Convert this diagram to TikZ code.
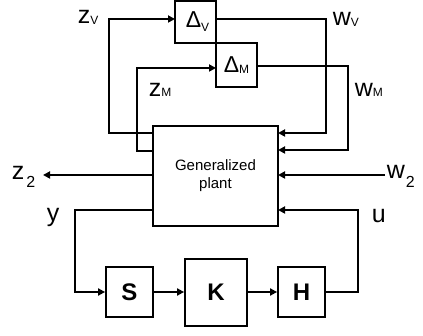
\documentclass[tikz,border=0pt]{standalone}
\usepackage{fontspec}
\setmainfont{Liberation Sans}
\usetikzlibrary{arrows.meta,calc}
\newcommand\mysub[3]{{\fontsize{#1}{#1}\selectfont\raisebox{-#2pt}{#3}}}
\begin{document}
\begin{tikzpicture}[x=1pt,y=-1pt, line width=1.8pt,
  arr/.style={-{Triangle[length=7pt,width=7pt]}},
  blk/.style={draw, inner sep=0pt, anchor=center},
  lab/.style={inner sep=0pt, anchor=base west, font=\fontsize{25}{25}\selectfont},
  bigbold/.style={font=\fontsize{24}{24}\selectfont\bfseries}]
\useasboundingbox (0,0) rectangle (423,336);
% blocks
\node[blk, minimum width=125pt, minimum height=100pt, align=center,
      font=\fontsize{15}{18}\selectfont] (plant) at (215.5,176) {Generalized\\plant};
\node[blk, minimum width=41pt, minimum height=42pt, font=\fontsize{23}{23}\selectfont] (dV) at (195.5,22) {\hspace*{4pt}Δ\mysub{12}{4}{V}};
\node[blk, minimum width=41pt, minimum height=44pt, font=\fontsize{23}{23}\selectfont] (dM) at (236.5,65) {Δ\mysub{12}{1}{M}};
\node[blk, bigbold, minimum width=47pt, minimum height=50pt] (S) at (129.5,292) {S};
\node[blk, bigbold, minimum width=62pt, minimum height=67pt] (K) at (216,292.5) {K};
\node[blk, bigbold, minimum width=47pt, minimum height=50pt] (H) at (301.5,292) {H};
% ports
\coordinate (pzV) at (153,133);
\coordinate (pzM) at (153,151);
\coordinate (pz2) at (153,175);
\coordinate (py)  at (153,210);
\coordinate (pwV) at (278,133);
\coordinate (pwM) at (278,150);
\coordinate (pw2) at (278,175);
\coordinate (pu)  at (278,210);
\coordinate (dVin) at (175,19);
\coordinate (dMin) at (216,68);
\coordinate (dMout) at (257,66);
\coordinate (z2end) at (43,175);
\coordinate (w2start) at (385,175);
% connectors
\draw[arr] (pzV) -- ++(-44,0) |- (dVin);
\draw[arr] (pzM) -- ++(-16,0) |- (dMin);
\draw[arr] (dV.east |- dVin) -- ++(109,0) |- (pwV);
\draw[arr] (dMout) -- ++(91,0) |- (pwM);
\draw[arr] (pz2) -- (z2end);
\draw[arr] (w2start) -- (pw2);
\draw[arr] (py) -- ++(-78,0) |- (S.west);
\draw[arr] (S.east) -- (S.east -| K.west);
\draw[arr] (K.east |- S.east) -- (H.west);
\draw[arr] (H.east) -- ++(32,0) |- (pu);
% labels
\node[lab] (lzV) at (77,24) {z\mysub{12}{1}{V}};
\node[lab] (lzM) at (148,97) {z\mysub{12}{0}{M}};
\node[lab] (lwV) at (332,26) {w\mysub{12}{1}{V}};
\node[lab] (lwM) at (354,97) {w\mysub{12}{0}{M}};
\node[lab] (lz2) at (11,180) {z\hspace{2pt}\mysub{16}{8}{2}};
\node[lab] (lw2) at (386,179) {w\hspace{1pt}\mysub{16}{9}{2}};
\node[lab] (ly) at (46,222) {y};
\node[lab] (lu) at (371,223) {u};
\end{tikzpicture}
\end{document}
